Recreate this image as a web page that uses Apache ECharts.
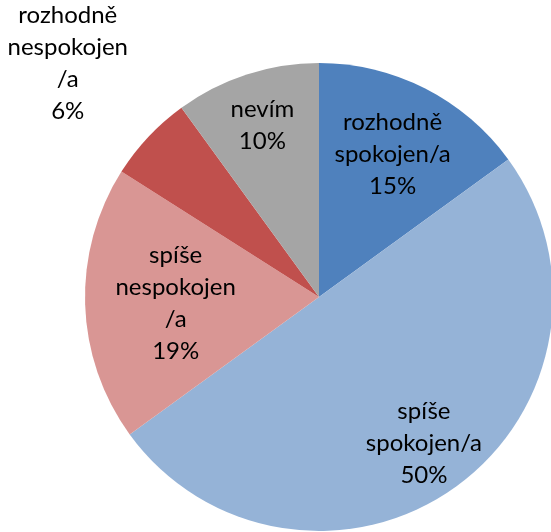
<!DOCTYPE html>
<html><head><meta charset="utf-8">
<script src="https://cdn.jsdelivr.net/npm/echarts@6/dist/echarts.min.js"></script>
<style>html,body{margin:0;padding:0;background:#fff}#c{width:551px;height:532px}</style>
</head><body><div id="c"></div>
<script>
const categories = ['rozhodně spokojen/a', 'spíše spokojen/a', 'spíše nespokojen/a', 'rozhodně nespokojen/a', 'nevím'];
const values = [15, 50, 19, 6, 10];
const labelLines = [
  ['rozhodně', 'spokojen/a'],
  ['spíše', 'spokojen/a'],
  ['spíše', 'nespokojen', '/a'],
  ['rozhodně', 'nespokojen', '/a'],
  ['nevím']
];
const colors = ['#4F81BD', '#95B3D7', '#D99694', '#C0504D', '#A5A5A5'];
const labelRadial = [0.68, 0.75, 0.60, 1.46, 0.77];

const R = 234;
const total = values.reduce((a, b) => a + b, 0);
let cum = 0;
const data = values.map((v, i) => {
  const mid = (cum + v / 2) / total * 2 * Math.PI;
  cum += v;
  const extra = (labelRadial[i] - 0.5) * R;
  return {
    name: categories[i],
    value: v,
    itemStyle: { color: colors[i] },
    label: { offset: [extra * Math.sin(mid), -extra * Math.cos(mid) + 2] }
  };
});

const chart = echarts.init(document.getElementById('c'), null, { renderer: 'canvas' });
chart.setOption({
  animation: false,
  series: [{
    type: 'pie',
    center: [319, 297],
    radius: [0, R],
    startAngle: 90,
    clockwise: true,
    avoidLabelOverlap: false,
    label: {
      show: true,
      position: 'inside',
      color: '#000',
      fontFamily: 'Lato',
      fontSize: 24,
      lineHeight: 32,
      align: 'center',
      formatter: p => labelLines[p.dataIndex].concat([Math.round(p.percent) + '%']).join('\n')
    },
    labelLine: { show: false },
    itemStyle: { borderWidth: 0 },
    emphasis: { disabled: true },
    data: data
  }]
});
</script></body></html>
